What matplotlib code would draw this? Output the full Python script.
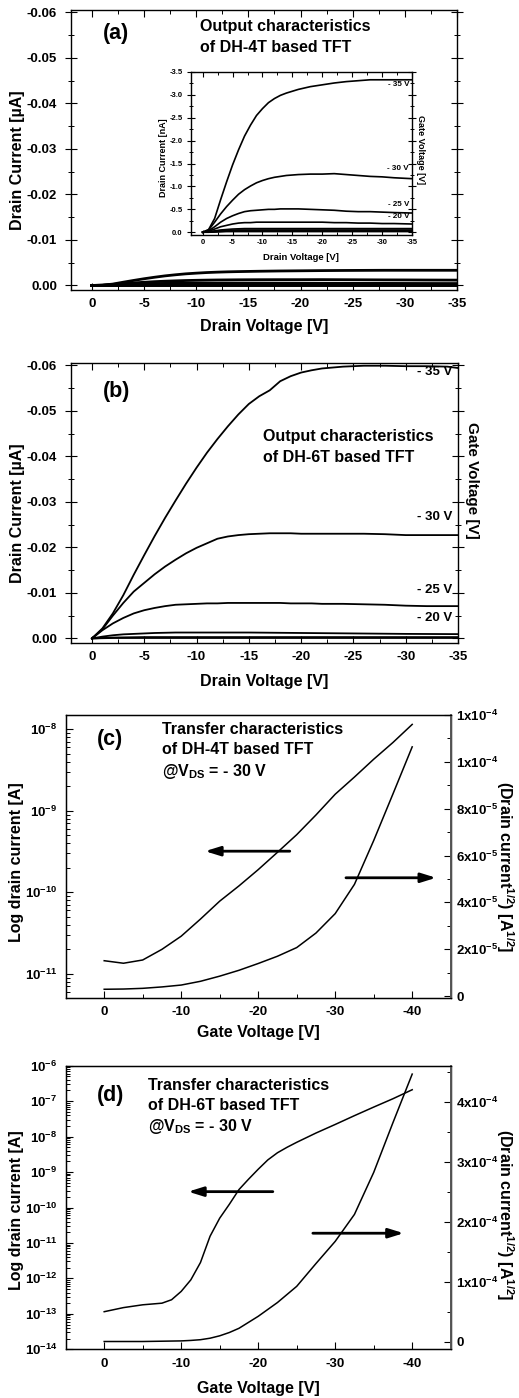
import matplotlib
matplotlib.use('Agg')
import matplotlib.pyplot as plt
from matplotlib.ticker import MultipleLocator, LogLocator, NullFormatter

plt.rcParams.update({
    'font.family': ['Liberation Sans', 'DejaVu Sans'],
    'font.weight': 'bold',
    'axes.unicode_minus': False,
    'mathtext.fontset': 'custom',
    'mathtext.rm': 'Liberation Sans:bold',
    'mathtext.bf': 'Liberation Sans:bold',
    'mathtext.it': 'Liberation Sans:bold:italic',
    'mathtext.sf': 'Liberation Sans:bold',
    'mathtext.default': 'rm',
})

# ---------------- data ----------------
# (a) DH-4T output characteristics (inset in nA; main plot shows the same in uA)
va_grid = [0, -1, -2, -3, -4, -5, -6, -7, -8, -9, -10, -11, -12, -13, -14, -15, -16,
           -18, -20, -22, -24, -26, -28, -30, -32, -35]
ia_35 = [0, -0.06, -0.30, -0.71, -1.10, -1.47, -1.80, -2.10, -2.34, -2.55, -2.70, -2.83, -2.92,
         -2.99, -3.04, -3.08, -3.12, -3.18, -3.22, -3.26, -3.29, -3.31, -3.33, -3.33, -3.33, -3.33]
ia_30 = [0, -0.05, -0.22, -0.40, -0.56, -0.70, -0.83, -0.93, -1.01, -1.08, -1.13, -1.17, -1.20,
         -1.22, -1.24, -1.25, -1.26, -1.27, -1.27, -1.28, -1.26, -1.24, -1.22, -1.21, -1.19, -1.17]
ia_25 = [0, -0.03, -0.12, -0.22, -0.30, -0.36, -0.41, -0.45, -0.47, -0.48, -0.49, -0.50, -0.50,
         -0.51, -0.51, -0.51, -0.51, -0.50, -0.49, -0.48, -0.46, -0.45, -0.45, -0.44, -0.43, -0.42]
ia_20 = [0, -0.02, -0.07, -0.12, -0.15, -0.18, -0.20, -0.21, -0.21, -0.22, -0.22, -0.22, -0.22,
         -0.22, -0.22, -0.22, -0.22, -0.22, -0.22, -0.21, -0.21, -0.20, -0.20, -0.19, -0.19, -0.18]
va_low = [0, -1, -2, -3, -4, -5, -6, -7, -35]
ia_15 = [0, -0.01, -0.03, -0.05, -0.06, -0.07, -0.075, -0.08, -0.08]
ia_10 = [0, -0.005, -0.02, -0.03, -0.04, -0.045, -0.05, -0.05, -0.05]
ia_05 = [0, -0.005, -0.01, -0.02, -0.025, -0.03, -0.03, -0.03, -0.03]
ia_00 = [0, 0.0, -0.005, -0.01, -0.015, -0.015, -0.015, -0.015, -0.015]
a_labels = ['- 35 V', '- 30 V', '- 25 V', '- 20 V']

# (b) DH-6T output characteristics (uA)
vb_grid = [0, -1, -2, -3, -4, -5, -6, -7, -8, -9, -10, -11, -12, -13, -14, -15, -16, -17, -18,
           -19, -20, -21, -22, -24, -26, -28, -30, -32, -34, -35]
ib_35 = [0, -0.0022, -0.0055, -0.0095, -0.0140, -0.0183, -0.0225, -0.0265, -0.0303, -0.0340,
         -0.0375, -0.0408, -0.0438, -0.0466, -0.0492, -0.0515, -0.0532, -0.0545, -0.0565, -0.0576,
         -0.0584, -0.0589, -0.0593, -0.0597, -0.0599, -0.0599, -0.0598, -0.0598, -0.0597, -0.0594]
ib_30 = [0, -0.0020, -0.0050, -0.0078, -0.0103, -0.0122, -0.0141, -0.0158, -0.0173, -0.0187,
         -0.0199, -0.0209, -0.0219, -0.0224, -0.0227, -0.0229, -0.0230, -0.0231, -0.0231, -0.0231,
         -0.0230, -0.0230, -0.0230, -0.0230, -0.0230, -0.0229, -0.0227, -0.0227, -0.0227, -0.0227]
ib_25 = [0, -0.0018, -0.0033, -0.0045, -0.0055, -0.0062, -0.0067, -0.0071, -0.0074, -0.0075,
         -0.0076, -0.0077, -0.0077, -0.0078, -0.0078, -0.0078, -0.0078, -0.0078, -0.0078, -0.0077,
         -0.0077, -0.0077, -0.0076, -0.0076, -0.0075, -0.0074, -0.0072, -0.0071, -0.0071, -0.0071]
vb_20 = [0, -1, -2, -3, -4, -5, -6, -8, -10, -15, -20, -25, -30, -35]
ib_20 = [0, -0.0004, -0.0007, -0.0009, -0.0010, -0.0011, -0.0012, -0.0013, -0.0013, -0.0013,
         -0.0012, -0.0011, -0.0010, -0.00095]
vb_low = [0, -2, -5, -35]
ib_15 = [0, -0.0002, -0.0003, -0.0003]
ib_10 = [0, -0.0001, -0.0001, -0.0001]
b_labels = ['- 35 V', '- 30 V', '- 25 V', '- 20 V']

# (c) DH-4T transfer characteristics
vg = [0, -2.5, -5, -7.5, -10, -12.5, -15, -17.5, -20, -22.5, -25, -27.5, -30, -32.5, -35, -37.5, -40]
c_log = [1.45e-11, 1.35e-11, 1.48e-11, 2.0e-11, 2.9e-11, 4.7e-11, 7.8e-11, 1.2e-10, 1.9e-10,
         3.1e-10, 5.1e-10, 8.9e-10, 1.6e-9, 2.6e-9, 4.3e-9, 6.9e-9, 1.15e-8]
c_sqrt = [2.9e-6, 3.0e-6, 3.3e-6, 3.9e-6, 4.7e-6, 6.3e-6, 8.5e-6, 1.1e-5, 1.39e-5, 1.7e-5,
          2.07e-5, 2.69e-5, 3.52e-5, 4.77e-5, 6.64e-5, 8.63e-5, 1.064e-4]

# (d) DH-6T transfer characteristics
vg_d = [0, -2.5, -5, -7.5, -8.75, -10, -11.25, -12.5, -13.75, -15, -16.25, -17.5, -18.75, -20,
        -21.25, -22.5, -23.75, -25, -27.5, -30, -32.5, -35, -37.5, -40]
d_log = [1.15e-13, 1.5e-13, 1.8e-13, 2.0e-13, 2.5e-13, 4.3e-13, 9.1e-13, 2.8e-12, 1.55e-11,
         5.0e-11, 1.23e-10, 3.2e-10, 6.3e-10, 1.2e-9, 2.2e-9, 3.5e-9, 5.0e-9, 6.9e-9, 1.26e-8,
         2.2e-8, 3.9e-8, 6.8e-8, 1.17e-7, 2.1e-7]
vg_d2 = [0, -2.5, -5, -7.5, -10, -11.25, -12.5, -13.75, -15, -16.25, -17.5, -20, -22.5, -25,
         -27.5, -30, -32.5, -35, -37.5, -40]
d_sqrt = [0, 0, 0, 0.5e-6, 1.0e-6, 1.8e-6, 3e-6, 5.5e-6, 9.5e-6, 1.5e-5, 2.2e-5, 4.2e-5, 6.5e-5,
          9.2e-5, 1.3e-4, 1.67e-4, 2.12e-4, 2.82e-4, 3.65e-4, 4.46e-4]

out_xticks = [0, -5, -10, -15, -20, -25, -30, -35]
out_xlabels = ['0', '-5', '-10', '-15', '-20', '-25', '-30', '-35']
out_yticks = [0, -0.01, -0.02, -0.03, -0.04, -0.05, -0.06]
out_ylabels = ['0.00', '-0.01', '-0.02', '-0.03', '-0.04', '-0.05', '-0.06']
inset_yticks = [0, -0.5, -1.0, -1.5, -2.0, -2.5, -3.0, -3.5]
inset_ylabels = ['0.0', '-0.5', '-1.0', '-1.5', '-2.0', '-2.5', '-3.0', '-3.5']
tr_xticks = [0, -10, -20, -30, -40]
tr_xlabels = ['0', '-10', '-20', '-30', '-40']
c_lticks = [1e-11, 1e-10, 1e-9, 1e-8]
c_llabels = ['10$^{-11}$', '10$^{-10}$', '10$^{-9}$', '10$^{-8}$']
c_rticks = [0, 2e-5, 4e-5, 6e-5, 8e-5, 1e-4, 1.2e-4]
c_rlabels = ['0', '2x10$^{-5}$', '4x10$^{-5}$', '6x10$^{-5}$', '8x10$^{-5}$', '1x10$^{-4}$', '1x10$^{-4}$']
d_lticks = [1e-14, 1e-13, 1e-12, 1e-11, 1e-10, 1e-9, 1e-8, 1e-7, 1e-6]
d_llabels = ['10$^{-14}$', '10$^{-13}$', '10$^{-12}$', '10$^{-11}$', '10$^{-10}$', '10$^{-9}$',
             '10$^{-8}$', '10$^{-7}$', '10$^{-6}$']
d_rticks = [0, 1e-4, 2e-4, 3e-4, 4e-4]
d_rlabels = ['0', '1x10$^{-4}$', '2x10$^{-4}$', '3x10$^{-4}$', '4x10$^{-4}$']

# ---------------- figure ----------------
W, H = 519, 1398
fig = plt.figure(figsize=(W / 100, H / 100), dpi=100)


def box(x0, y0, x1, y1):
    return [x0 / W, 1 - y1 / H, (x1 - x0) / W, (y1 - y0) / H]


def ftext(x, y, s, **kw):
    kw.setdefault('fontweight', 'bold')
    fig.text(x / W, 1 - y / H, s, **kw)


TICK = 9.5
LAB = 11.5


def style_output(ax, fs=TICK, small=False):
    ax.set_xticks(out_xticks)
    ax.set_xticklabels(out_xlabels)
    ax.xaxis.set_minor_locator(MultipleLocator(2.5))
    ml = 3.5 if small else 5
    ax.tick_params(which='major', direction='in', length=ml, width=0.8, labelsize=fs,
                   top=True, right=True, pad=3 if small else 6)
    ax.tick_params(which='minor', direction='in', length=ml * 0.55, width=0.7, top=True, right=True)
    ax.tick_params(axis='y', which='major', direction='inout', length=ml * 1.6)
    ax.tick_params(axis='y', which='minor', direction='inout', length=ml)
    for s in ax.spines.values():
        s.set_linewidth(1.0)


# ----- panel (a) -----
axa = fig.add_axes(box(71, 10, 457, 290))
for cur in [ia_35, ia_30, ia_25, ia_20]:
    axa.plot(va_grid, [v * 1e-3 for v in cur], color='k', lw=2.0)
for cur in [ia_15, ia_10, ia_05, ia_00]:
    axa.plot(va_low, [v * 1e-3 for v in cur], color='k', lw=2.0)
axa.set_xlim(2, -35)
axa.set_ylim(0.001, -0.0605)
axa.set_yticks(out_yticks)
axa.set_yticklabels(out_ylabels)
axa.yaxis.set_minor_locator(MultipleLocator(0.005))
style_output(axa)
ftext(103, 33, '(a)', fontsize=15.5, ha='left', va='center')
ftext(200, 27, 'Output characteristics', fontsize=LAB, ha='left', va='center')
ftext(200, 47, 'of DH-4T based TFT', fontsize=LAB, ha='left', va='center')
ftext(18, 160, 'Drain Current [\u00b5A]', fontsize=LAB, rotation=90, ha='center', va='center')
ftext(264, 326, 'Drain Voltage [V]', fontsize=LAB, ha='center', va='center')

# inset
axi = fig.add_axes(box(190.7, 72, 412, 235))
for cur in [ia_35, ia_30, ia_25, ia_20]:
    axi.plot(va_grid, cur, color='k', lw=1.2)
for cur in [ia_15, ia_10, ia_05, ia_00]:
    axi.plot(va_low, cur, color='k', lw=1.2)
axi.set_xlim(2, -35)
axi.set_ylim(0.06, -3.5)
axi.set_yticks(inset_yticks)
axi.set_yticklabels(inset_ylabels)
axi.yaxis.set_minor_locator(MultipleLocator(0.25))
style_output(axi, fs=5.5, small=True)
for lab, yy in zip(a_labels, [85, 168, 205, 217]):
    ftext(409, yy, lab, fontsize=5.8, ha='right', va='center')
ftext(421, 150, 'Gate Voltage [V]', fontsize=6.5, rotation=-90, ha='center', va='center')
ftext(164, 158, 'Drain Current [nA]', fontsize=6.5, rotation=90, ha='center', va='center')
ftext(301, 257, 'Drain Voltage [V]', fontsize=6.8, ha='center', va='center')

# ----- panel (b) -----
axb = fig.add_axes(box(71, 363, 458, 643))
for ii in [ib_35, ib_30, ib_25]:
    axb.plot(vb_grid, ii, color='k', lw=1.3)
axb.plot(vb_20, ib_20, color='k', lw=1.3)
for ii in [ib_15, ib_10]:
    axb.plot(vb_low, ii, color='k', lw=1.3)
axb.set_xlim(2, -35)
axb.set_ylim(0.001, -0.0605)
axb.set_yticks(out_yticks)
axb.set_yticklabels(out_ylabels)
axb.yaxis.set_minor_locator(MultipleLocator(0.005))
style_output(axb)
for lab, yy in zip(b_labels, [372, 517, 590, 618]):
    ftext(452, yy, lab, fontsize=9.5, ha='right', va='center')
ftext(103, 392, '(b)', fontsize=15.5, ha='left', va='center')
ftext(263, 437, 'Output characteristics', fontsize=LAB, ha='left', va='center')
ftext(263, 458, 'of DH-6T based TFT', fontsize=LAB, ha='left', va='center')
ftext(472, 480, 'Gate Voltage [V]', fontsize=11, rotation=-90, ha='center', va='center')
ftext(18, 513, 'Drain Current [\u00b5A]', fontsize=LAB, rotation=90, ha='center', va='center')
ftext(264, 682, 'Drain Voltage [V]', fontsize=LAB, ha='center', va='center')


def style_transfer(ax, ax2):
    ax.set_xticks(tr_xticks)
    ax.set_xticklabels(tr_xlabels)
    ax.xaxis.set_minor_locator(MultipleLocator(5))
    ax.tick_params(which='major', direction='in', length=5, width=0.8, labelsize=TICK, pad=6)
    ax.tick_params(which='minor', direction='in', length=3, width=0.7)
    ax.yaxis.set_minor_locator(LogLocator(base=10, subs=range(2, 10), numticks=30))
    ax.yaxis.set_minor_formatter(NullFormatter())
    ax2.tick_params(which='major', direction='in', length=5, width=0.8, labelsize=TICK, pad=4)
    ax2.tick_params(which='minor', direction='in', length=3, width=0.7)
    for s in ax.spines.values():
        s.set_linewidth(1.0)
    ax2.spines['right'].set_color('#555555')
    ax2.spines['right'].set_linewidth(1.4)


arrow = dict(arrowstyle='-|>,head_length=0.9,head_width=0.28', lw=2.0, color='k',
             mutation_scale=10, shrinkA=0, shrinkB=0)

# ----- panel (c) -----
axc = fig.add_axes(box(65.7, 715, 450.7, 997.7))
axc.semilogy(vg, c_log, color='k', lw=1.1)
axc.set_xlim(5, -45)
axc.set_ylim(5.1e-12, 1.5e-8)
axc2 = axc.twinx()
axc2.plot(vg, c_sqrt, color='k', lw=1.1)
axc2.set_ylim(-7e-7, 1.2e-4)
axc.set_yticks(c_lticks)
axc.set_yticklabels(c_llabels)
axc2.set_yticks(c_rticks)
axc2.set_yticklabels(c_rlabels)
axc2.yaxis.set_minor_locator(MultipleLocator(1e-5))
style_transfer(axc, axc2)
axc.annotate('', xy=(-13.1, 3.2e-10), xytext=(-24.1, 3.2e-10), arrowprops=arrow)
axc2.annotate('', xy=(-43.1, 5.05e-5), xytext=(-31.4, 5.05e-5), arrowprops=arrow)
ftext(97, 740, '(c)', fontsize=15.5, ha='left', va='center')
ftext(162, 730, 'Transfer characteristics', fontsize=LAB, ha='left', va='center')
ftext(162, 750, 'of DH-4T based TFT', fontsize=LAB, ha='left', va='center')
ftext(162, 771, '@V$_{\\mathrm{DS}}$ = - 30 V', fontsize=LAB, ha='left', va='center')
ftext(17, 862, 'Log drain current [A]', fontsize=LAB, rotation=90, ha='center', va='center')
ftext(505, 867, '(Drain current$^{1/2}$) [A$^{1/2}$]', fontsize=LAB, rotation=-90,
      ha='center', va='center')
ftext(258, 1033, 'Gate Voltage [V]', fontsize=LAB, ha='center', va='center')

# ----- panel (d) -----
axd = fig.add_axes(box(65.7, 1065.7, 450.7, 1349.3))
axd.semilogy(vg_d, d_log, color='k', lw=1.1)
axd.set_xlim(5, -45)
axd.set_ylim(1e-14, 1e-6)
axd2 = axd.twinx()
axd2.plot(vg_d2, d_sqrt, color='k', lw=1.1)
axd2.set_ylim(-1.3e-5, 4.6e-4)
axd.set_yticks(d_lticks)
axd.set_yticklabels(d_llabels)
axd2.set_yticks(d_rticks)
axd2.set_yticklabels(d_rlabels)
axd2.yaxis.set_minor_locator(MultipleLocator(5e-5))
style_transfer(axd, axd2)
axd.annotate('', xy=(-10.9, 2.8e-10), xytext=(-21.9, 2.8e-10), arrowprops=arrow)
axd2.annotate('', xy=(-38.9, 1.806e-4), xytext=(-27.1, 1.806e-4), arrowprops=arrow)
ftext(97, 1095, '(d)', fontsize=15.5, ha='left', va='center')
ftext(148, 1085, 'Transfer characteristics', fontsize=LAB, ha='left', va='center')
ftext(148, 1106, 'of DH-6T based TFT', fontsize=LAB, ha='left', va='center')
ftext(148, 1127, '@V$_{\\mathrm{DS}}$ = - 30 V', fontsize=LAB, ha='left', va='center')
ftext(17, 1210, 'Log drain current [A]', fontsize=LAB, rotation=90, ha='center', va='center')
ftext(505, 1215, '(Drain current$^{1/2}$) [A$^{1/2}$]', fontsize=LAB, rotation=-90,
      ha='center', va='center')
ftext(258, 1388, 'Gate Voltage [V]', fontsize=LAB, ha='center', va='center')

fig.savefig('out.png', dpi=100)
